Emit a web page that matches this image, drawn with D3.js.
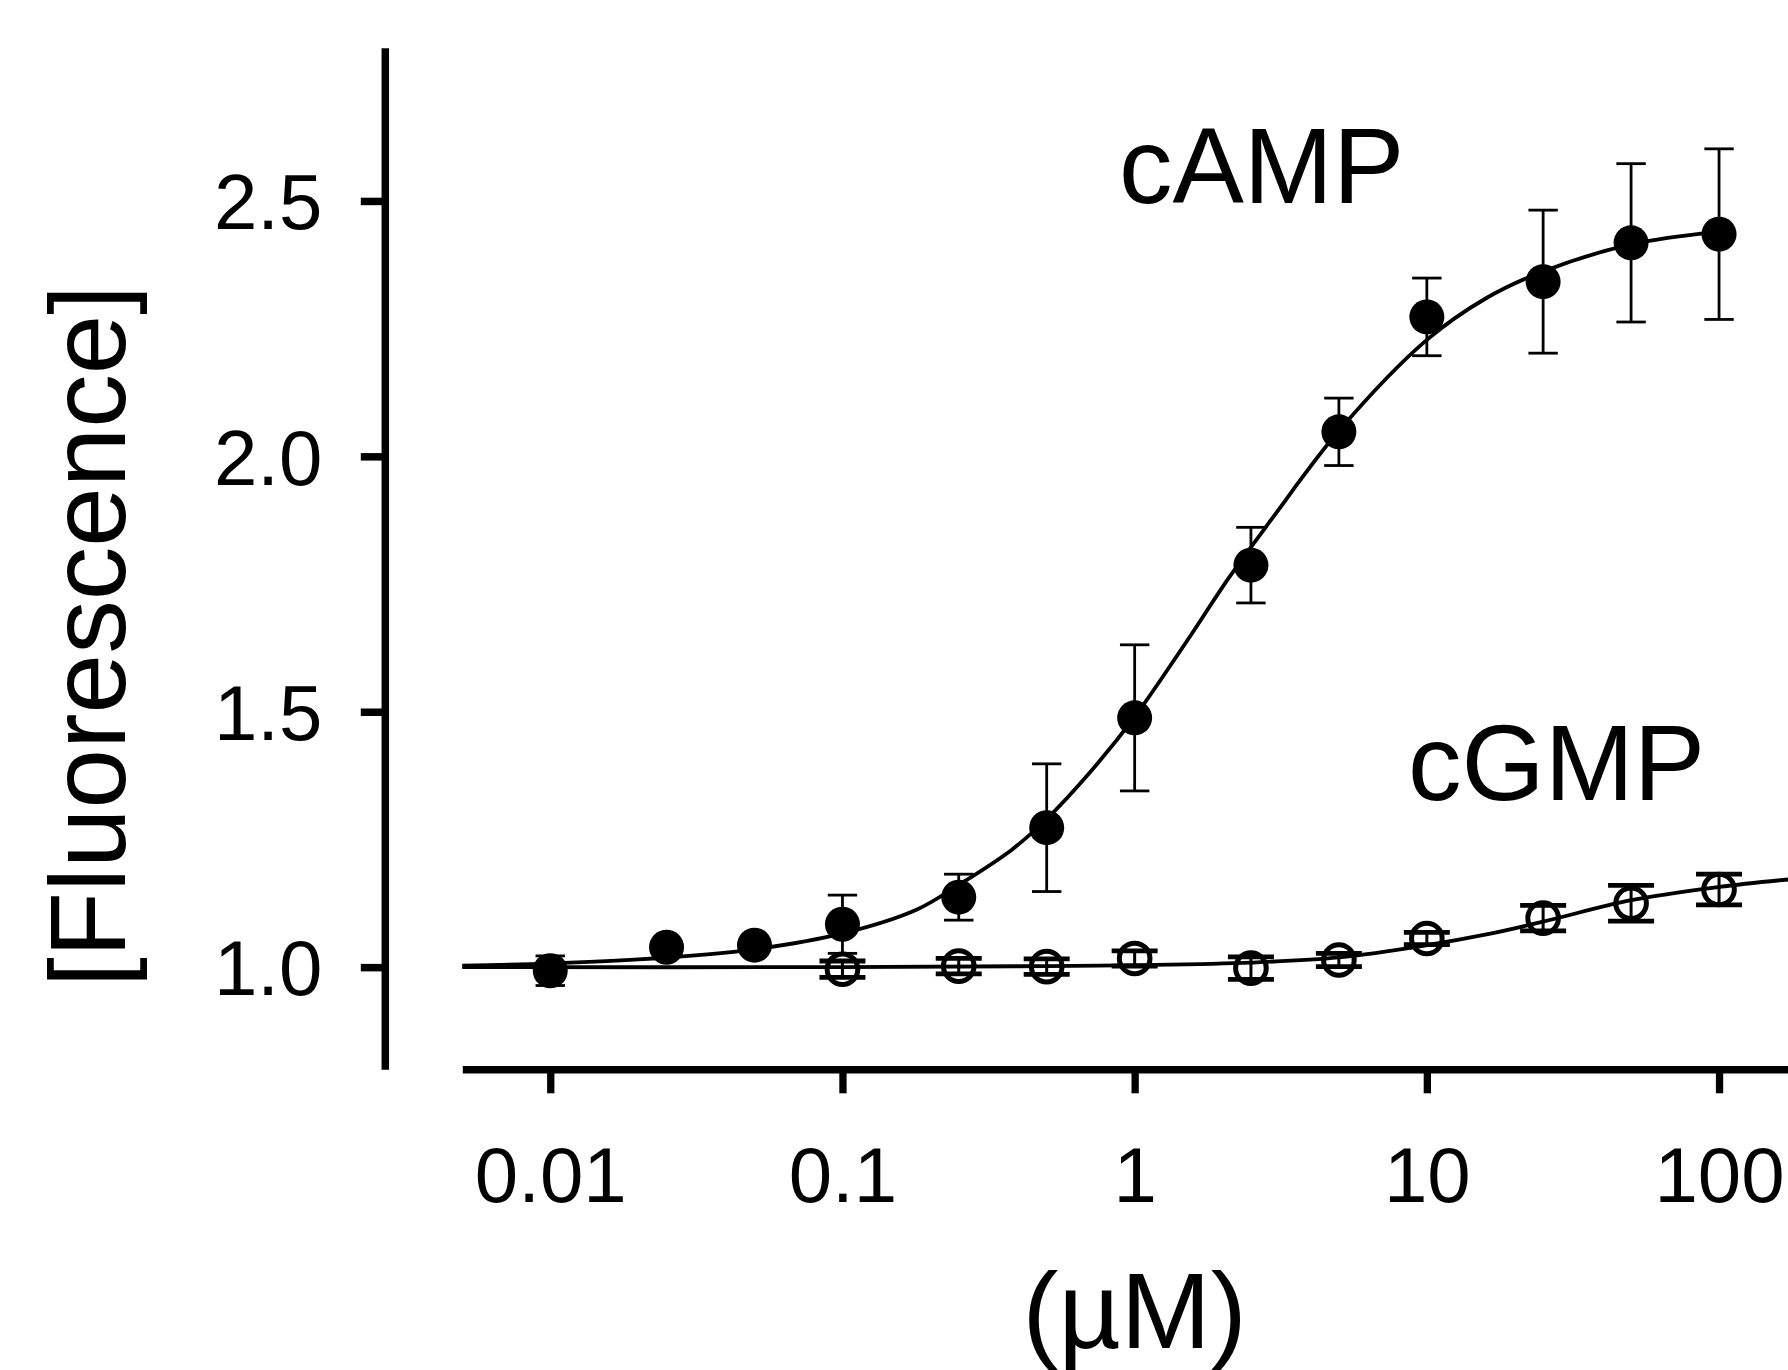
<!DOCTYPE html>
<html>
<head>
<meta charset="utf-8">
<script src="https://cdn.jsdelivr.net/npm/d3@7"></script>
<style>
  html, body { margin: 0; padding: 0; background: #ffffff; }
  svg { display: block; }
  text { font-family: "Liberation Sans", Arial, Helvetica, sans-serif; fill: #000; }
</style>
</head>
<body>
<script>
// ---------------- data ----------------
const xTickValues = [0.01, 0.1, 1, 10, 100];
const xTickLabels = ["0.01", "0.1", "1", "10", "100"];
const yTickValues = [1.0, 1.5, 2.0, 2.5];
const yTickLabels = ["1.0", "1.5", "2.0", "2.5"];

const seriesNames = ["cAMP", "cGMP"];

// cAMP (filled circles)
const cAMPConc = [0.01, 0.025, 0.05, 0.1, 0.25, 0.5, 1, 2.5, 5, 10, 25, 50, 100];
const cAMPMean = [0.993, 1.039, 1.043, 1.084, 1.137, 1.273, 1.488, 1.787, 2.048, 2.273, 2.342, 2.418, 2.435];
const cAMPErr  = [0.029, 0.01, 0.01, 0.057, 0.045, 0.125, 0.143, 0.074, 0.066, 0.076, 0.14, 0.155, 0.167];

// cGMP (open circles)
const cGMPConc = [0.1, 0.25, 0.5, 1, 2.5, 5, 10, 25, 50, 100];
const cGMPMean = [0.996, 1.002, 1.001, 1.017, 0.998, 1.014, 1.056, 1.096, 1.125, 1.152];
const cGMPErr  = [0.016, 0.015, 0.015, 0.015, 0.022, 0.013, 0.012, 0.025, 0.035, 0.03];

// fitted curves, points
const cAMPFitConc = [0.005, 0.01, 0.02, 0.05, 0.1, 0.18, 0.25, 0.38, 0.5, 0.7, 1, 1.5, 2.1, 2.9, 5, 10, 16, 25, 50, 100];
const cAMPFitVal  = [1.003, 1.007, 1.015, 1.035, 1.066, 1.113, 1.161, 1.23, 1.29, 1.38, 1.49, 1.636, 1.762, 1.872, 2.05, 2.228, 2.31, 2.362, 2.415, 2.44];
const cGMPFitConc = [0.005, 0.1, 0.5, 1, 2.5, 5, 10, 16, 25, 50, 100, 175];
const cGMPFitVal  = [1.0, 1.0, 1.002, 1.004, 1.009, 1.019, 1.043, 1.064, 1.089, 1.131, 1.157, 1.172];

// ---------------- layout ----------------
const W = 1788, H = 1370;
const svg = d3.select("body").append("svg").attr("width", W).attr("height", H);
svg.append("rect").attr("width", W).attr("height", H).attr("fill", "#fff");

const x = d3.scaleLog().domain([0.005, 200]).range([462.3, 1807]);
const y = d3.scaleLinear().domain([0.8, 2.8]).range([1069.3, 47.7]);
const yAxisX = 384.8;
const xAxisY = 1069.3;

// ---------------- axes ----------------
const xAxis = d3.axisBottom(x)
  .tickValues(xTickValues)
  .tickFormat((d, i) => xTickLabels[i])
  .tickSize(24).tickSizeOuter(0);
const gx = svg.append("g").attr("transform", `translate(0,${xAxisY})`).call(xAxis);
gx.select(".domain").attr("stroke", "#000").attr("stroke-width", 7.5);
gx.selectAll(".tick line").attr("stroke", "#000").attr("stroke-width", 7.3);
gx.selectAll(".tick text")
  .attr("y", 133).attr("dy", 0)
  .style("font-family", "'Liberation Sans', Arial, sans-serif")
  .style("font-size", "78px").attr("fill", "#000");

const yAxis = d3.axisLeft(y)
  .tickValues(yTickValues)
  .tickFormat((d, i) => yTickLabels[i])
  .tickSize(24).tickSizeOuter(0);
const gy = svg.append("g").attr("transform", `translate(${yAxisX},0)`).call(yAxis);
gy.select(".domain").attr("stroke", "#000").attr("stroke-width", 7.5);
gy.selectAll(".tick line").attr("stroke", "#000").attr("stroke-width", 7.5);
gy.selectAll(".tick text")
  .attr("x", -62.4).attr("dy", 0).attr("y", 27.8)
  .style("font-family", "'Liberation Sans', Arial, sans-serif")
  .style("font-size", "78px").attr("fill", "#000");

// axis titles
svg.append("text")
  .attr("transform", "translate(125,636) rotate(-90)")
  .attr("text-anchor", "middle")
  .style("font-size", "107px")
  .text("[Fluorescence]");
svg.append("text")
  .attr("x", x(1)).attr("y", 1348)
  .attr("text-anchor", "middle")
  .style("font-size", "108px")
  .text("(\u00B5M)");

// series labels
svg.append("text").attr("x", 1119).attr("y", 203).style("font-size", "107px").text(seriesNames[0]);
svg.append("text").attr("x", 1408).attr("y", 800).style("font-size", "107px").text(seriesNames[1]);

// ---------------- curves ----------------
const line = d3.line().x(d => x(d[0])).y(d => y(d[1])).curve(d3.curveCatmullRom.alpha(0.5));
svg.append("path")
  .datum(cGMPFitConc.map((c, i) => [c, cGMPFitVal[i]]))
  .attr("d", line).attr("fill", "none").attr("stroke", "#000").attr("stroke-width", 3.8);
svg.append("path")
  .datum(cAMPFitConc.map((c, i) => [c, cAMPFitVal[i]]))
  .attr("d", line).attr("fill", "none").attr("stroke", "#000").attr("stroke-width", 3.8);

// ---------------- error bars ----------------
function errorBars(conc, mean, err, capHalf, sw, capSw) {
  const g = svg.append("g");
  const data = conc.map((c, i) => ({ c, m: mean[i], e: err[i] }));
  g.append("g").selectAll("line").data(data).join("line")
    .attr("x1", d => x(d.c)).attr("x2", d => x(d.c))
    .attr("y1", d => y(d.m + d.e)).attr("y2", d => y(d.m - d.e))
    .attr("stroke", "#000").attr("stroke-width", sw);
  g.append("g").selectAll("line").data(data).join("line")
    .attr("x1", d => x(d.c) - capHalf).attr("x2", d => x(d.c) + capHalf)
    .attr("y1", d => y(d.m + d.e)).attr("y2", d => y(d.m + d.e))
    .attr("stroke", "#000").attr("stroke-width", capSw);
  g.append("g").selectAll("line").data(data).join("line")
    .attr("x1", d => x(d.c) - capHalf).attr("x2", d => x(d.c) + capHalf)
    .attr("y1", d => y(d.m - d.e)).attr("y2", d => y(d.m - d.e))
    .attr("stroke", "#000").attr("stroke-width", capSw);
}
errorBars(cGMPConc, cGMPMean, cGMPErr, 23, 3, 4.8);
errorBars(cAMPConc, cAMPMean, cAMPErr, 14.7, 2.8, 2.8);

// ---------------- markers ----------------
svg.append("g").selectAll("circle")
  .data(cGMPConc.map((c, i) => [c, cGMPMean[i]]))
  .join("circle")
  .attr("cx", d => x(d[0])).attr("cy", d => y(d[1])).attr("r", 15.3)
  .attr("fill", "none").attr("stroke", "#000").attr("stroke-width", 5);
svg.append("g").selectAll("circle")
  .data(cAMPConc.map((c, i) => [c, cAMPMean[i]]))
  .join("circle")
  .attr("cx", d => x(d[0])).attr("cy", d => y(d[1])).attr("r", 17.5)
  .attr("fill", "#000");
</script>
</body>
</html>
